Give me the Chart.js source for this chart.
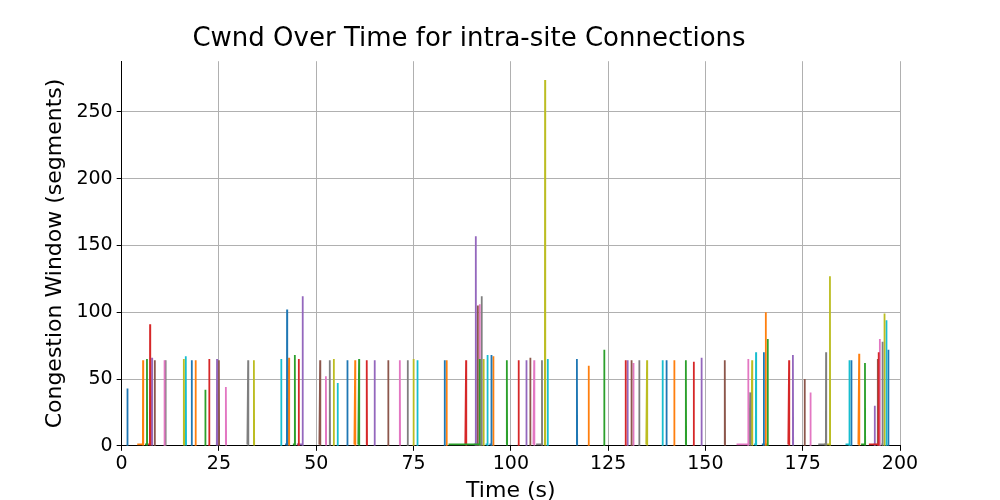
<!DOCTYPE html>
<html>
<head>
<meta charset="utf-8">
<script src="https://cdn.jsdelivr.net/npm/chart.js@4.4.0/dist/chart.umd.min.js"></script>
<style>
  body { margin: 0; background: #fff; }
  #wrap { width: 1000px; height: 500px; }
</style>
</head>
<body>
<div id="wrap"><canvas id="cwnd"></canvas></div>
<script>
// one entry per connection: time the flow starts, time of the peak, peak cwnd (segments)
const connStart = [1.4, 4.0, 6.0, 6.8, 7.5, 8.3, 10.8, 11.2, 15.8, 16.3, 17.8, 18.8, 21.3, 22.3, 24.2, 24.8, 26.7,
  32.3, 33.8, 40.8, 42.0, 42.8, 44.0, 45.2, 45.0, 50.8, 52.3, 53.3, 54.3, 55.3, 57.8, 59.8, 60.8, 62.8, 64.8,
  68.3, 71.3, 73.3, 74.8, 75.8, 82.8, 83.3, 84.0, 88.3, 90.5, 91.0, 91.5, 92.0, 92.8, 93.5, 94.5, 95.3,
  98.8, 101.8, 103.8, 104.8, 105.8, 106.5, 108.5, 109.3, 116.8, 119.8, 123.8, 129.3, 129.8, 130.8, 131.3,
  132.8, 134.8, 138.8, 139.8, 141.8, 144.8, 146.8, 148.8, 154.8, 158.0, 161.3, 161.8, 162.5, 164.5, 165.0,
  165.5, 171.3, 172.3, 175.3, 176.8, 179.0, 180.5, 186.0, 187.3, 189.3, 190.0, 192.0, 193.8, 194.0, 194.5,
  195.2, 195.8, 196.3, 196.8];
const connPeakTime = [1.5, 5.5, 6.5, 7.3, 7.8, 8.5, 11.0, 11.3, 16.0, 16.5, 18.0, 19.0, 21.5, 22.5, 24.5, 25.0, 26.8,
  32.5, 34.0, 41.0, 42.5, 43.0, 44.5, 45.5, 46.5, 51.0, 52.5, 53.5, 54.5, 55.5, 58.0, 60.0, 61.0, 63.0, 65.0,
  68.5, 71.5, 73.5, 75.0, 76.0, 83.0, 83.5, 92.0, 88.5, 91.0, 91.5, 92.0, 92.5, 93.0, 94.0, 95.0, 95.5,
  99.0, 102.0, 104.0, 105.0, 106.0, 108.0, 108.8, 109.5, 117.0, 120.0, 124.0, 129.5, 130.0, 131.0, 131.5,
  133.0, 135.0, 139.0, 140.0, 142.0, 145.0, 147.0, 149.0, 155.0, 161.0, 161.5, 162.0, 163.0, 165.0, 165.5,
  166.0, 171.5, 172.5, 175.5, 177.0, 181.0, 182.0, 187.0, 187.5, 189.5, 191.0, 194.5, 193.5, 194.3, 194.8,
  195.5, 196.0, 196.5, 197.0];
const connPeak = [43, 64, 65, 91, 66, 64, 64, 64, 65, 67, 64, 64, 42, 65, 65, 64, 44,
  64, 64, 65, 102, 66, 68, 65, 112, 64, 52, 64, 65, 47, 64, 64, 65, 64, 64,
  64, 64, 64, 65, 64, 64, 64, 65, 64, 157, 105, 106, 112, 65, 68, 68, 67,
  64, 64, 64, 66, 64, 64, 274, 65, 65, 60, 72, 64, 64, 64, 62,
  64, 64, 64, 64, 64, 64, 63, 66, 64, 65, 40, 64, 70, 70, 100,
  80, 64, 68, 50, 40, 70, 127, 64, 64, 69, 62, 70, 30, 65, 80,
  78, 99, 94, 72];

const tab10 = ['#1f77b4', '#ff7f0e', '#2ca02c', '#d62728', '#9467bd',
  '#8c564b', '#e377c2', '#7f7f7f', '#bcbd22', '#17becf'];

const datasets = connStart.map((t, i) => ({
  data: [
    { x: t, y: 1 },
    { x: connPeakTime[i] - 0.05, y: 1 },
    { x: connPeakTime[i], y: connPeak[i] },
    { x: connPeakTime[i] + 0.05, y: 0 }
  ],
  borderColor: tab10[i % 10],
  borderWidth: 1.8,
  pointRadius: 0,
  tension: 0,
  fill: false
}));

const font = 'DejaVu Sans';

new Chart(document.getElementById('cwnd'), {
  type: 'line',
  data: { datasets },
  options: {
    responsive: true,
    maintainAspectRatio: false,
    animation: false,
    layout: { padding: { left: 38, right: 100, top: 0, bottom: 0 } },
    plugins: {
      legend: { display: false },
      tooltip: { enabled: false },
      title: {
        display: true,
        text: 'Cwnd Over Time for intra-site Connections',
        color: '#000',
        font: { family: font, size: 26, weight: 'normal' },
        padding: { top: 24, bottom: 6 }
      }
    },
    scales: {
      x: {
        type: 'linear',
        min: 0, max: 200,
        ticks: { stepSize: 25, color: '#000', font: { family: font, size: 19 }, maxRotation: 0, padding: 2 },
        grid: { color: '#b0b0b0', tickColor: '#000', tickLength: 5 },
        border: { color: '#000' },
        title: { display: true, text: 'Time (s)', color: '#000', font: { family: font, size: 22 }, padding: { top: 0, bottom: -4 } }
      },
      y: {
        min: 0, max: 288,
        ticks: { stepSize: 50, color: '#000', font: { family: font, size: 19 }, padding: 4 },
        afterBuildTicks: axis => { axis.ticks = axis.ticks.filter(t => t.value % 50 === 0); },
        grid: { color: '#b0b0b0', tickColor: '#000', tickLength: 5 },
        border: { color: '#000' },
        title: { display: true, text: 'Congestion Window (segments)', color: '#000', font: { family: font, size: 22 }, padding: 4 }
      }
    }
  }
});
</script>
</body>
</html>
